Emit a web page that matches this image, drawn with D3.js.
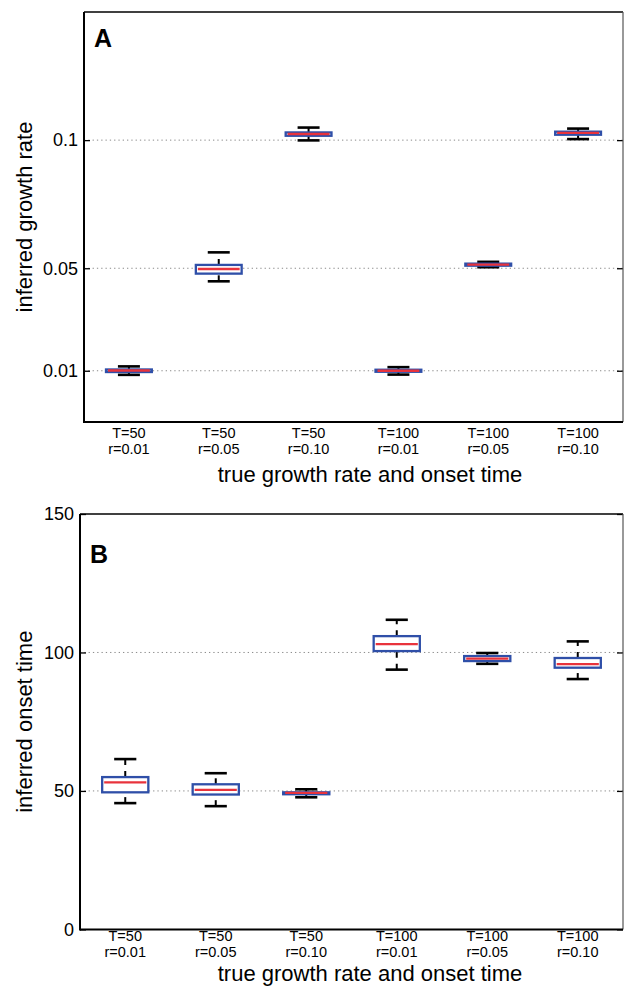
<!DOCTYPE html>
<html>
<head>
<meta charset="utf-8">
<script src="https://cdn.jsdelivr.net/npm/d3@7"></script>
<style>
  html, body { margin: 0; padding: 0; background: #fff; }
  svg { display: block; }
  text { font-family: "Liberation Sans", Arial, Helvetica, sans-serif; fill: #000; }
</style>
</head>
<body>
<script>
// ---- data ----
const categoryT = ["T=50", "T=50", "T=50", "T=100", "T=100", "T=100"];
const categoryR = ["r=0.01", "r=0.05", "r=0.10", "r=0.01", "r=0.05", "r=0.10"];
const categories = categoryT.map((t, i) => t + " " + categoryR[i]);

// Panel A: inferred growth rate
const rateLowerWhisker = [0.0084, 0.0449, 0.0999, 0.0085, 0.0504, 0.1004];
const rateQ1           = [0.0095, 0.0479, 0.1017, 0.0096, 0.0510, 0.1021];
const rateMedian       = [0.0101, 0.0497, 0.1024, 0.0100, 0.0514, 0.1028];
const rateQ3           = [0.0105, 0.0513, 0.1030, 0.0104, 0.0518, 0.1033];
const rateUpperWhisker = [0.0117, 0.0562, 0.1049, 0.0114, 0.0525, 0.1045];
const rateTicks = [0.01, 0.05, 0.1];
const rateTickLabels = ["0.01", "0.05", "0.1"];
const rateDomain = [-0.01, 0.15];

// Panel B: inferred onset time
const onsetLowerWhisker = [45.6, 44.5, 47.7, 93.8, 95.9, 90.4];
const onsetQ1           = [49.5, 48.7, 48.8, 100.5, 96.9, 94.5];
const onsetMedian       = [53.1, 50.4, 49.3, 103.0, 97.8, 95.8];
const onsetQ3           = [55.0, 52.4, 49.5, 105.9, 98.7, 98.0];
const onsetUpperWhisker = [61.5, 56.4, 50.6, 111.8, 99.8, 104.0];
const onsetTicks = [0, 50, 100, 150];
const onsetTickLabels = ["0", "50", "100", "150"];
const onsetDomain = [0, 150];
const onsetGridTicks = [50, 100];

const xTitle = "true growth rate and onset time";

// ---- drawing ----
const W = 624, H = 986;
const svg = d3.select("body").append("svg").attr("width", W).attr("height", H);

const BLUE = "#2f4fa8", RED = "#e8333c";

function panel(opts) {
  const { left, right, top, bottom, domain, ticks, tickLabels, gridTicks,
          lw, q1, med, q3, uw, letter, letterY, yTitle,
          tBase, rBase, titleBase } = opts;
  const g = svg.append("g");
  const x = d3.scalePoint().domain(categories).range([left, right]).padding(0.5);
  const y = d3.scaleLinear().domain(domain).range([bottom, top]);
  const boxW = x.step() * 0.51;
  const capW = boxW * 0.48;

  // gridlines
  g.append("g").selectAll("line").data(gridTicks).join("line")
    .attr("x1", left).attr("x2", right)
    .attr("y1", d => y(d)).attr("y2", d => y(d))
    .attr("stroke", "#8a8a8a").attr("stroke-width", 1)
    .attr("stroke-dasharray", "1.3,3");

  // left axis via d3
  const yAxis = d3.axisLeft(y).tickValues(ticks)
    .tickFormat((d, i) => tickLabels[i]).tickSizeInner(-6).tickSizeOuter(0).tickPadding(6);
  const ax = g.append("g").attr("transform", `translate(${left},0)`).call(yAxis);
  ax.select(".domain").remove();
  ax.selectAll(".tick line").attr("stroke", "#000").attr("stroke-width", 1.3);
  ax.selectAll(".tick text").style("font-size", "18px")
    .style("font-family", '"Liberation Sans", Arial, sans-serif').attr("fill", "#000");

  // right ticks
  const yAxisR = d3.axisRight(y).tickValues(ticks).tickFormat("").tickSizeInner(-6).tickSizeOuter(0);
  const axr = g.append("g").attr("transform", `translate(${right},0)`).call(yAxisR);
  axr.select(".domain").remove();
  axr.selectAll(".tick line").attr("stroke", "#000").attr("stroke-width", 1.3);

  // frame
  g.append("line").attr("x1", left).attr("x2", right).attr("y1", top).attr("y2", top)
    .attr("stroke", "#000").attr("stroke-width", 1.5);
  g.append("line").attr("x1", right).attr("x2", right).attr("y1", top).attr("y2", bottom)
    .attr("stroke", "#555").attr("stroke-width", 1.2);
  g.append("line").attr("x1", left).attr("x2", left).attr("y1", top).attr("y2", bottom + 1)
    .attr("stroke", "#000").attr("stroke-width", 2);
  g.append("line").attr("x1", left).attr("x2", right).attr("y1", bottom).attr("y2", bottom)
    .attr("stroke", "#000").attr("stroke-width", 2);

  const idx = d3.range(categories.length);
  const bx = g.append("g");
  // whiskers (dashed): upper drawn from q3 outward, lower from whisker end to q1
  bx.selectAll(".wu").data(idx).join("line")
    .attr("x1", i => x(categories[i])).attr("x2", i => x(categories[i]))
    .attr("y1", i => y(q3[i])).attr("y2", i => y(uw[i]))
    .attr("stroke", "#000").attr("stroke-width", 2).attr("stroke-dasharray", "6,6");
  bx.selectAll(".wl").data(idx).join("line")
    .attr("x1", i => x(categories[i])).attr("x2", i => x(categories[i]))
    .attr("y1", i => y(lw[i])).attr("y2", i => y(q1[i]))
    .attr("stroke", "#000").attr("stroke-width", 2).attr("stroke-dasharray", "6,6");
  // caps
  bx.selectAll(".cu").data(idx).join("line")
    .attr("x1", i => x(categories[i]) - capW / 2).attr("x2", i => x(categories[i]) + capW / 2)
    .attr("y1", i => y(uw[i])).attr("y2", i => y(uw[i]))
    .attr("stroke", "#000").attr("stroke-width", 2.6);
  bx.selectAll(".cl").data(idx).join("line")
    .attr("x1", i => x(categories[i]) - capW / 2).attr("x2", i => x(categories[i]) + capW / 2)
    .attr("y1", i => y(lw[i])).attr("y2", i => y(lw[i]))
    .attr("stroke", "#000").attr("stroke-width", 2.6);
  // boxes
  bx.selectAll("rect").data(idx).join("rect")
    .attr("x", i => x(categories[i]) - boxW / 2).attr("width", boxW)
    .attr("y", i => y(q3[i])).attr("height", i => Math.max(0.1, y(q1[i]) - y(q3[i])))
    .attr("fill", "#fff").attr("stroke", BLUE).attr("stroke-width", 2.3);
  // medians
  bx.selectAll(".med").data(idx).join("line")
    .attr("x1", i => x(categories[i]) - boxW / 2 + 2).attr("x2", i => x(categories[i]) + boxW / 2 - 2)
    .attr("y1", i => y(med[i])).attr("y2", i => y(med[i]))
    .attr("stroke", RED).attr("stroke-width", 2.3);

  // x tick labels (two lines)
  const lab = g.append("g");
  lab.selectAll(".t1").data(idx).join("text")
    .attr("x", i => x(categories[i])).attr("y", tBase)
    .attr("text-anchor", "middle").style("font-size", "14.5px").text(i => categoryT[i]);
  lab.selectAll(".t2").data(idx).join("text")
    .attr("x", i => x(categories[i])).attr("y", rBase)
    .attr("text-anchor", "middle").style("font-size", "14.5px").text(i => categoryR[i]);

  // titles
  g.append("text").attr("x", 370).attr("y", titleBase).attr("text-anchor", "middle")
    .style("font-size", "22px").text(xTitle);
  g.append("text").attr("transform", `translate(32,${(top + bottom) / 2}) rotate(-90)`)
    .attr("text-anchor", "middle").style("font-size", "22px").text(yTitle);
  g.append("text").attr("x", left + 10).attr("y", letterY)
    .style("font-size", "25px").style("font-weight", "bold").attr("fill", "#222").text(letter);
}

panel({
  left: 84, right: 623, top: 12, bottom: 422,
  domain: rateDomain, ticks: rateTicks, tickLabels: rateTickLabels, gridTicks: rateTicks,
  lw: rateLowerWhisker, q1: rateQ1, med: rateMedian, q3: rateQ3, uw: rateUpperWhisker,
  letter: "A", letterY: 47, yTitle: "inferred growth rate",
  tBase: 438, rBase: 454, titleBase: 482
});

panel({
  left: 80, right: 623, top: 514, bottom: 929.4,
  domain: onsetDomain, ticks: onsetTicks, tickLabels: onsetTickLabels, gridTicks: onsetGridTicks,
  lw: onsetLowerWhisker, q1: onsetQ1, med: onsetMedian, q3: onsetQ3, uw: onsetUpperWhisker,
  letter: "B", letterY: 563, yTitle: "inferred onset time",
  tBase: 941, rBase: 956.5, titleBase: 980.5
});
</script>
</body>
</html>
